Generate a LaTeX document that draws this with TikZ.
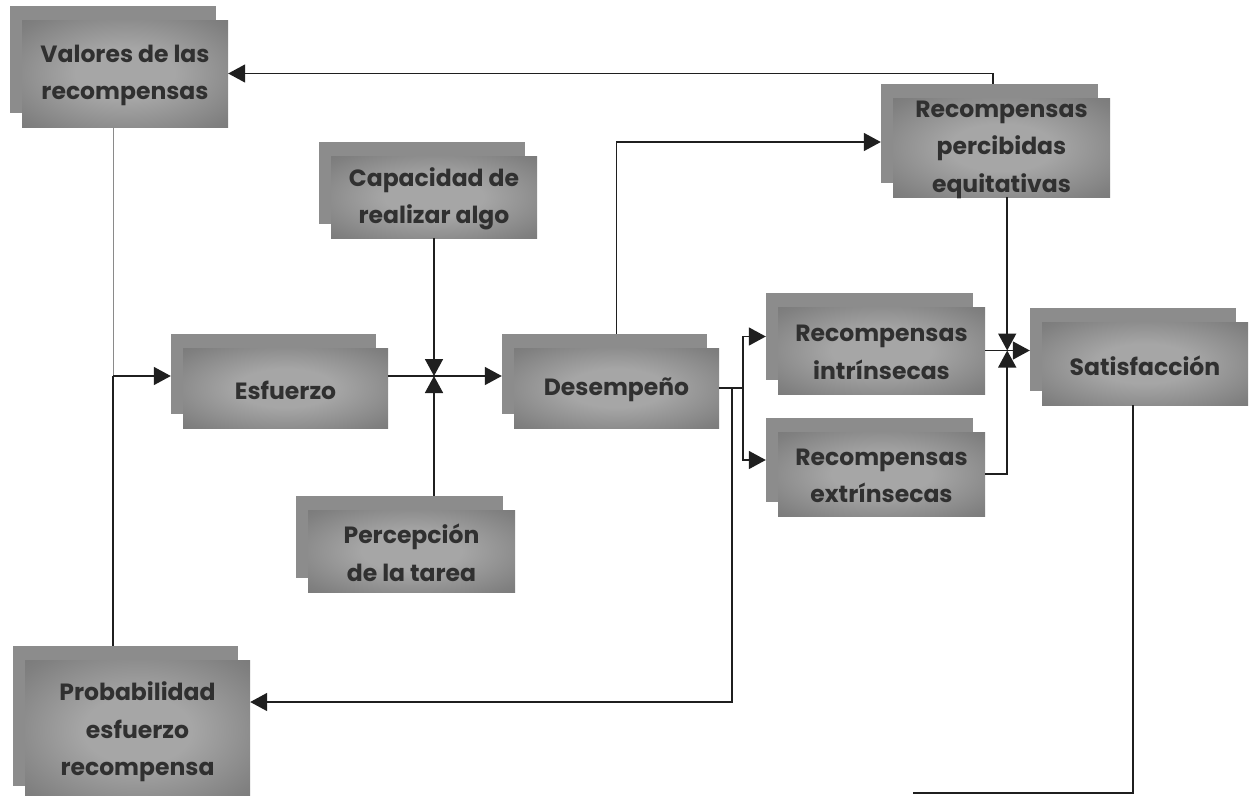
\documentclass[tikz,border=0pt]{standalone}
\usepackage{fontspec}
\setmainfont{Poppins}
\usetikzlibrary{arrows.meta,calc}

\definecolor{backgray}{HTML}{8C8C8C}
\definecolor{frontout}{HTML}{686868}
\definecolor{frontmid}{HTML}{808080}
\definecolor{frontin}{HTML}{A6A6A6}
\definecolor{inkgray}{HTML}{303030}
\definecolor{wiregray}{HTML}{8A8A8A}

% soft glow in the middle of every front box
\pgfdeclareradialshading{boxglow}{\pgfpoint{0bp}{0bp}}{%
  color(0bp)=(frontin); color(12bp)=(frontin); color(32bp)=(frontmid);
  color(50bp)=(frontout); color(75bp)=(frontout)}

\tikzset{
  backbox/.style={rectangle, inner sep=0pt, fill=backgray, draw=none},
  frontbox/.style={rectangle, inner sep=0pt, shading=boxglow, draw=none},
  boxtext/.style={inner sep=0pt, align=center, text=inkgray,
    font=\fontsize{23.5}{37.5}\selectfont\bfseries},
  link/.style={line width=1.6pt, draw=black!88},
  thinlink/.style={line width=1pt, draw=wiregray},
  arr/.style={link, -{Triangle[length=17pt,width=18pt]}},
}

% a stacked pair of boxes: #1 name, #2 centre, #3 width, #4 height, #5 text
\newcommand\duobox[5]{%
  \node[backbox, minimum width=#3pt, minimum height=#4pt] (#1b) at ($(#2)+(-12,-14)$) {};
  \node[frontbox, minimum width=#3pt, minimum height=#4pt] (#1) at (#2) {};
  \node[boxtext] (#1t) at ($(#1)+(0,2)$) {#5};
}

\begin{document}
\begin{tikzpicture}[x=1pt,y=-1pt]
\useasboundingbox[fill=white] (0,0) rectangle (1258,795);

% boxes
\duobox{val}{125,73.5}{206}{107}{Valores de las\\recompensas}
\duobox{perc}{1001.5,147.5}{217}{99}{Recompensas\\percibidas\\equitativas}
\duobox{cap}{434,197}{206}{82}{Capacidad de\\realizar algo}
\duobox{esf}{285.5,388}{205}{80}{Esfuerzo}
\duobox{des}{616.5,388}{205}{80}{Desempeño}
\duobox{intr}{881.5,350.5}{207}{87}{Recompensas\\intrínsecas}
\duobox{extr}{881.5,474}{207}{84}{Recompensas\\extrínsecas}
\duobox{sat}{1145,363.5}{206}{83}{Satisfacción}
\duobox{ptar}{411.5,551}{207}{82}{Percepción\\de la tarea}
\duobox{prob}{137.5,730}{225}{140}{Probabilidad\\esfuerzo\\recompensa}

% junction points
\coordinate (J1) at (434,376);
\coordinate (J0) at (valb.south |- J1);
\coordinate (B) at ($(des.east)+(24,0)$);
\coordinate (S) at ($(des.east)+(13,0)$);
\coordinate (J2) at ($(intr.east)+(22,0)$);
\coordinate (E) at (913,793);

% left loop: values and probability feed effort
\draw[thinlink] (val.south -| valb.south) -- (J0);
\draw[link] (J0) -- (probb.north -| J0);
\draw[arr] (J0) -- (esfb.west |- J1);

% effort to performance, with ability and task perception
\draw[arr] (esf.east |- J1) -- (desb.west |- J1);
\draw[arr] (cap.south -| J1) -- (J1);
\draw[arr] (ptarb.north -| J1) -- (J1);

% performance to rewards
\draw[arr] (desb.north -| des.north) |- ($(percb.west)+(0,8.5)$);
\draw[link] (des.east) -- (B);
\draw[arr] (B) |- (intrb.west);
\draw[arr] (B) |- (extrb.west);
\draw[thinlink, draw=black!70] (S) -- ($(S)+(0,25)$);
\draw[arr] (S) |- ($(prob.east)+(0,-28)$);

% rewards to satisfaction
\draw[arr] ($(percb.north)+(3.5,0)$) |- (val.east);
\draw[arr] (intr.east) -- (satb.west |- intr.east);
\draw[arr] (perc.south -| J2) -- (J2);
\draw[arr] (extr.east) -| (J2);
\draw[link] (sat.south -| satb.south) |- (E);
\end{tikzpicture}
\end{document}
